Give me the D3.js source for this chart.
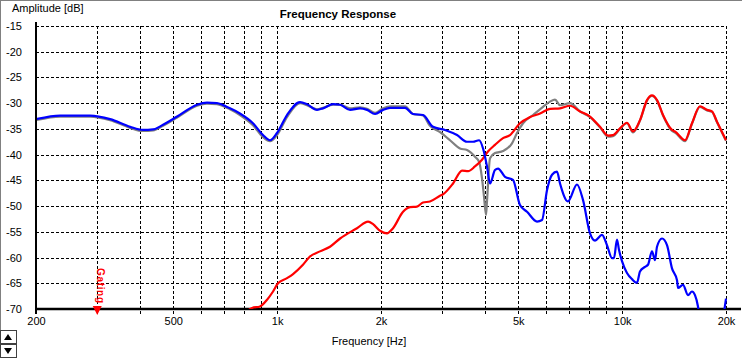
<!DOCTYPE html>
<html>
<head>
<meta charset="utf-8">
<script src="https://cdn.jsdelivr.net/npm/d3@7/dist/d3.min.js"></script>
<style>
  html, body { margin: 0; padding: 0; background: #ffffff; }
  svg { display: block; }
  text { font-family: "Liberation Sans", Arial, sans-serif; }
</style>
</head>
<body>
<svg id="chart" width="742" height="359"></svg>
<script>
// ---------- data ----------
const title = "Frequency Response";
const yTitle = "Amplitude [dB]";
const xTitle = "Frequency [Hz]";
const xTickValues = [200, 500, 1000, 2000, 5000, 10000, 20000];
const xTickLabels = ["200", "500", "1k", "2k", "5k", "10k", "20k"];
const xGridValues = [200, 300, 400, 500, 600, 700, 800, 900, 1000, 2000, 3000, 4000, 5000, 6000, 7000, 8000, 9000, 10000, 20000];
const yTickValues = [-15, -20, -25, -30, -35, -40, -45, -50, -55, -60, -65, -70];
const gatingFreq = 300;
const gatingLabel = "Gating";

// woofer (blue)
const blueFreq = [200, 235, 287, 328, 375, 408, 437, 467, 513, 586, 626, 669, 730, 780, 851, 910, 954, 999, 1068, 1165, 1220, 1305, 1358, 1452, 1522, 1627, 1739, 1822, 1922, 2027, 2124, 2348, 2476, 2647, 2830, 3066, 3322, 3551, 3696, 3849, 3952, 4058, 4140, 4280, 4368, 4576, 4826, 5056, 5300, 5666, 5858, 6056, 6262, 6474, 6606, 6966, 7398, 7700, 8070, 8344, 8742, 9038, 9344, 9470, 9662, 9792, 9990, 10328, 10680, 11042, 11264, 11648, 11882, 12204, 12452, 12620, 13048, 13490, 13948, 14422, 14518, 15010, 15520, 15938, 16260, 16590, 16812, 19214, 19700, 20000];
const blueDb = [-33.1, -32.4, -32.4, -33.1, -34.6, -35.2, -35.1, -34.2, -32.6, -30.3, -29.9, -30.0, -31.0, -32.0, -33.9, -36.2, -37.2, -35.8, -32.3, -29.8, -30.2, -31.3, -31.0, -30.2, -30.3, -31.3, -31.0, -31.3, -32.1, -31.3, -30.9, -30.9, -32.1, -32.3, -34.6, -35.2, -36.2, -37.5, -37.5, -37.2, -38.8, -42.3, -45.6, -43.0, -42.7, -44.3, -44.9, -49.8, -51.1, -53.0, -52.7, -46.9, -43.9, -43.3, -45.6, -49.1, -45.8, -48.8, -55.3, -56.7, -55.6, -57.6, -60.1, -60.1, -56.5, -58.5, -60.7, -63.0, -64.2, -64.9, -62.7, -61.8, -61.4, -58.8, -60.5, -57.9, -56.3, -57.6, -62.1, -64.4, -65.9, -65.3, -67.3, -66.6, -67.3, -69.5, -72.0, -75.0, -71.0, -68.0];

// tweeter (red)
const redFreq = [801, 846, 892, 935, 973, 1006, 1068, 1112, 1188, 1245, 1331, 1423, 1522, 1704, 1835, 1897, 1987, 2081, 2167, 2317, 2427, 2543, 2647, 2773, 2965, 3026, 3235, 3435, 3576, 3745, 3925, 4084, 4280, 4516, 4731, 5056, 5408, 5781, 6180, 6606, 7062, 7550, 8070, 8626, 9099, 9407, 9855, 10328, 10752, 11264, 11804, 12204, 12620, 13136, 13948, 14230, 15214, 15938, 16812, 17616, 18214, 18834, 20000];
const redDb = [-71.0, -69.8, -69.5, -68.2, -66.6, -65.0, -64.0, -63.2, -61.4, -59.8, -58.8, -57.9, -56.3, -54.3, -53.0, -53.5, -54.8, -55.3, -54.3, -51.1, -50.2, -50.1, -49.3, -49.1, -48.0, -47.7, -45.6, -43.1, -43.2, -42.3, -41.0, -39.4, -38.1, -36.8, -36.2, -33.9, -32.7, -32.0, -31.1, -31.0, -30.5, -31.6, -32.6, -34.6, -36.3, -36.2, -34.9, -33.8, -35.5, -33.3, -29.4, -28.5, -29.4, -32.3, -35.2, -35.5, -37.2, -33.9, -30.6, -31.3, -31.6, -33.6, -37.2];

// summed response (gray)
const grayFreq = [200, 235, 287, 328, 375, 408, 437, 467, 513, 586, 626, 669, 730, 780, 851, 910, 954, 999, 1068, 1165, 1220, 1305, 1358, 1452, 1522, 1627, 1739, 1822, 1922, 2027, 2124, 2348, 2476, 2647, 2773, 2965, 3170, 3388, 3551, 3745, 3849, 3925, 3978, 4031, 4058, 4140, 4280, 4516, 4795, 4958, 5160, 5516, 5898, 6180, 6388, 6606, 7062, 7550, 8070, 8626, 9099, 9407, 9855, 10328, 10752, 11264, 11804, 12204, 12620, 13136, 13948, 14230, 15214, 15938, 16812, 17616, 18214, 18834, 20000];
const grayDb = [-33.3, -32.6, -32.6, -33.3, -34.8, -35.4, -35.3, -34.4, -32.8, -30.5, -30.1, -30.2, -31.2, -32.3, -34.3, -36.6, -37.4, -36.2, -32.7, -30.0, -30.4, -31.2, -30.9, -30.3, -30.3, -31.0, -30.8, -31.1, -31.9, -31.0, -30.6, -30.6, -32.1, -32.4, -34.4, -35.6, -37.2, -38.8, -39.1, -40.4, -41.4, -44.6, -48.2, -51.7, -49.0, -40.7, -39.7, -39.3, -37.8, -35.8, -33.9, -32.3, -30.7, -29.7, -29.3, -30.4, -30.0, -31.6, -32.7, -34.7, -36.5, -36.4, -35.0, -33.9, -35.7, -33.4, -29.5, -28.6, -29.5, -32.4, -35.4, -35.7, -37.4, -34.0, -30.7, -31.4, -31.7, -33.7, -37.3];

// ---------- chart ----------
const svg = d3.select("#chart");
const W = 742, H = 359;
const pLeft = 36, pRight = 726, pTop = 26, pBottom = 309;

const x = d3.scaleLog().domain([200, 20000]).range([pLeft, pRight]);
const y = d3.scaleLinear().domain([-70, -15]).range([pBottom, pTop]);

// window border
svg.append("line").attr("x1", 0).attr("x2", W).attr("y1", 0.5).attr("y2", 0.5).attr("stroke", "#808080");
svg.append("line").attr("x1", 0.5).attr("x2", 0.5).attr("y1", 0).attr("y2", 330).attr("stroke", "#808080");

// grid
const grid = svg.append("g").attr("stroke", "#000").attr("stroke-width", 1).attr("stroke-dasharray", "3,2");
grid.selectAll("line.h").data(yTickValues.filter(v => v !== -70)).join("line")
  .attr("x1", pLeft).attr("x2", pRight)
  .attr("y1", d => Math.round(y(d)) + 0.5).attr("y2", d => Math.round(y(d)) + 0.5);
grid.selectAll("line.v").data(xGridValues.filter(v => v !== 200)).join("line")
  .attr("x1", d => Math.round(x(d)) + 0.5).attr("x2", d => Math.round(x(d)) + 0.5)
  .attr("y1", pTop).attr("y2", pBottom + 5);

// axes lines
svg.append("line").attr("x1", pLeft).attr("x2", pLeft).attr("y1", pTop - 4).attr("y2", pBottom + 5)
  .attr("stroke", "#000").attr("stroke-width", 2);
svg.append("line").attr("x1", pLeft - 1).attr("x2", 741).attr("y1", pBottom).attr("y2", pBottom)
  .attr("stroke", "#000").attr("stroke-width", 2.5);

// x axis labels
const xAxis = d3.axisBottom(x).tickValues(xTickValues)
  .tickFormat((d, i) => xTickLabels[i]).tickSize(0).tickPadding(8);
const gx = svg.append("g").attr("transform", `translate(0,${pBottom})`).call(xAxis);
gx.select(".domain").remove();
gx.selectAll("text").attr("font-size", 11).attr("fill", "#000")
  .attr("font-family", "'Liberation Sans', Arial, sans-serif");

// y axis labels
const yAxis = d3.axisLeft(y).tickValues(yTickValues).tickFormat(d => String(d)).tickSize(0).tickPadding(14);
const gy = svg.append("g").attr("transform", `translate(${pLeft},0)`).call(yAxis);
gy.select(".domain").remove();
gy.selectAll("text").attr("font-size", 11).attr("fill", "#000")
  .attr("font-family", "'Liberation Sans', Arial, sans-serif");

// titles
svg.append("text").attr("x", 338).attr("y", 18).attr("text-anchor", "middle")
  .attr("font-size", 11.5).attr("font-weight", "bold").text(title);
svg.append("text").attr("x", 12).attr("y", 12).attr("font-size", 11).text(yTitle);
svg.append("text").attr("x", 369).attr("y", 345).attr("text-anchor", "middle")
  .attr("font-size", 11).text(xTitle);

// curves
svg.append("clipPath").attr("id", "plotclip").append("rect")
  .attr("x", pLeft + 1).attr("y", pTop - 2).attr("width", pRight - pLeft + 2).attr("height", pBottom - pTop + 2);
const line = d3.line().x(d => x(d[0])).y(d => y(d[1])).curve(d3.curveMonotoneX);
const plot = svg.append("g").attr("clip-path", "url(#plotclip)");
const series = [
  { f: grayFreq, v: grayDb, color: "#808080" },
  { f: redFreq, v: redDb, color: "#ff0000" },
  { f: blueFreq, v: blueDb, color: "#0000ff" }
];
series.forEach(s => {
  plot.append("path").datum(s.f.map((f, i) => [f, s.v[i]]))
    .attr("fill", "none").attr("stroke", s.color).attr("stroke-width", 2.2)
    .attr("stroke-linejoin", "round").attr("d", line);
});

// gating marker
const gPos = x(gatingFreq);
svg.append("path")
  .attr("d", `M${gPos - 4},${pBottom - 3} L${gPos + 5},${pBottom - 3} L${gPos + 0.5},${pBottom + 6} Z`)
  .attr("fill", "#ff0000");
svg.append("text")
  .attr("transform", `translate(${gPos + 0.5},268) rotate(90)`)
  .attr("font-size", 10).attr("font-weight", "bold").attr("fill", "#ff0000")
  .attr("textLength", 35).text(gatingLabel);

// spinner buttons bottom-left
[[330, "M4,340 L12,340 L8,334 Z"], [344, "M4,348 L12,348 L8,354 Z"]].forEach(([yy, p]) => {
  svg.append("rect").attr("x", 0.5).attr("y", yy + 0.5).attr("width", 16).attr("height", 13)
    .attr("fill", "#ffffff").attr("stroke", "#404040");
  svg.append("path").attr("d", p).attr("fill", "#000");
});
</script>
</body>
</html>
